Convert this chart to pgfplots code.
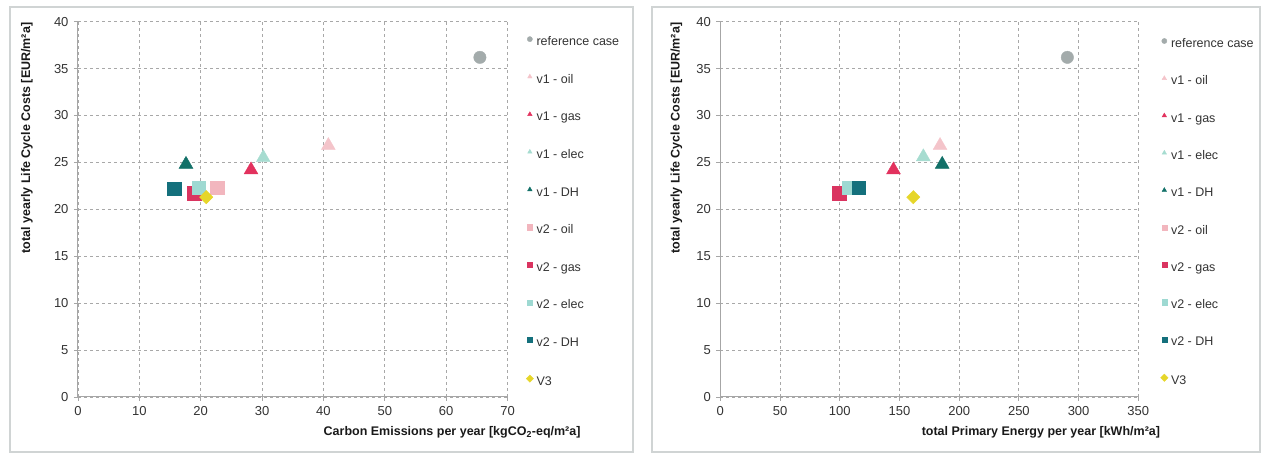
\documentclass[border=0pt]{standalone}
\usepackage{fontspec}
\setmainfont{Liberation Sans}
\usepackage{pgfplots}
\pgfplotsset{compat=1.18}

% marker colours
\definecolor{cref}{HTML}{A3ABAB}
\definecolor{oilA}{HTML}{F4C4CA}
\definecolor{gasA}{HTML}{E2325E}
\definecolor{elecA}{HTML}{A6DCD0}
\definecolor{dhA}{HTML}{127068}
\definecolor{oilB}{HTML}{F2B6BE}
\definecolor{gasB}{HTML}{DA3460}
\definecolor{elecB}{HTML}{9ED9D2}
\definecolor{dhB}{HTML}{14707C}
\definecolor{vthree}{HTML}{E6D62A}
\definecolor{gridc}{HTML}{A8A8A8}
\definecolor{framec}{HTML}{D0D4D4}

\pgfplotsset{
  lcc/.style={
    scale only axis,
    height=375.3pt,
    axis x line=bottom, axis y line=left,
    axis line style={-, draw=black!35, line width=1pt},
    ymin=0, ymax=40, ytick distance=5,
    grid=major,
    major grid style={draw=gridc, line width=0.9pt, dash pattern=on 3pt off 3pt},
    major tick length=4pt, tick align=outside,
    tick style={draw=black!35, line width=0.8pt},
    /pgf/number format/assume math mode=true,
    ticklabel style={font=\fontsize{13}{15}\selectfont, text=black!80},
    yticklabel style={xshift=-2pt},
    xticklabel style={yshift=-2pt},
    label style={font=\bfseries\fontsize{12.5}{14}\selectfont, text=black!90},
    only marks,
    clip=false,
    legend cell align=left,
    legend image code/.code={\draw[#1, mark size=2.6pt] plot coordinates {(0pt,3.5pt)};},
    legend style={draw=none, fill=none, anchor=north west, inner sep=0pt,
      row sep=25.5pt, column sep=3pt,
      font=\fontsize{12.5}{14}\selectfont, text=black!80,
      nodes={inner sep=0pt, text height=9pt, text depth=3pt}},
  },
  circ/.style={mark=*, mark size=6.2pt, color=#1},
  tri/.style={mark=triangle*, mark size=8pt, color=#1},
  sqr/.style={mark=square*, mark size=6.8pt, color=#1},
  dia/.style={mark=square*, mark size=4.7pt, mark options={rotate=45}, color=#1},
}

\begin{document}
\begin{tikzpicture}
\useasboundingbox (0pt,0pt) rectangle (1266pt,457pt);
% panel frames
\draw[framec, line width=1.2pt] (10pt,5pt) rectangle (633pt,450pt);
\draw[framec, line width=1.2pt] (652pt,5pt) rectangle (1260pt,450pt);

% carbon emissions vs. life cycle costs
\begin{axis}[lcc,
  at={(78pt,60pt)}, anchor=south west, width=429.5pt,
  xmin=0, xmax=70, xtick distance=10,
  xlabel={Carbon Emissions per year [kgCO\textsubscript{2}-eq/m²a]},
  ylabel={total yearly Life Cycle Costs [EUR/m²a]},
  xlabel style={at={(rel axis cs:0.871,-0.093)}, anchor=center},
  ylabel style={at={(rel axis cs:-0.119,0.69)}, anchor=center},
  legend style={at={(rel axis cs:1.043,0.961)}},
]
\addplot[circ=cref] coordinates {(65.5,36.2)};
\addlegendentry{reference case}
\addplot[tri=oilA] coordinates {(40.8,26.8)};
\addlegendentry{v1 - oil}
\addplot[tri=gasA] coordinates {(28.2,24.2)};
\addlegendentry{v1 - gas}
\addplot[tri=elecA] coordinates {(30.2,25.5)};
\addlegendentry{v1 - elec}
\addplot[tri=dhA] coordinates {(17.6,24.8)};
\addlegendentry{v1 - DH}
\addplot[sqr=oilB] coordinates {(22.7,22.3)};
\addlegendentry{v2 - oil}
\addplot[sqr=gasB] coordinates {(18.9,21.7)};
\addlegendentry{v2 - gas}
\addplot[sqr=elecB] coordinates {(19.7,22.3)};
\addlegendentry{v2 - elec}
\addplot[sqr=dhB] coordinates {(15.7,22.2)};
\addlegendentry{v2 - DH}
\addplot[dia=vthree] coordinates {(20.9,21.3)};
\addlegendentry{V3}
\end{axis}

% primary energy vs. life cycle costs
\begin{axis}[lcc,
  at={(720.3pt,60pt)}, anchor=south west, width=418pt,
  xmin=0, xmax=350, xtick distance=50,
  xlabel={total Primary Energy per year [kWh/m²a]},
  ylabel={total yearly Life Cycle Costs [EUR/m²a]},
  xlabel style={at={(rel axis cs:0.767,-0.093)}, anchor=center},
  ylabel style={at={(rel axis cs:-0.105,0.69)}, anchor=center},
  legend style={at={(rel axis cs:1.053,0.956)}, row sep=25.2pt},
]
\addplot[circ=cref] coordinates {(290.6,36.2)};
\addlegendentry{reference case}
\addplot[tri=oilA] coordinates {(184,26.8)};
\addlegendentry{v1 - oil}
\addplot[tri=gasA] coordinates {(145,24.2)};
\addlegendentry{v1 - gas}
\addplot[tri=elecA] coordinates {(170,25.6)};
\addlegendentry{v1 - elec}
\addplot[tri=dhA] coordinates {(185.8,24.8)};
\addlegendentry{v1 - DH}
\addplot[sqr=oilB] coordinates {(109,22.3)};
\addlegendentry{v2 - oil}
\addplot[sqr=gasB] coordinates {(99.4,21.7)};
\addlegendentry{v2 - gas}
\addplot[sqr=elecB] coordinates {(107.5,22.3)};
\addlegendentry{v2 - elec}
\addplot[sqr=dhB] coordinates {(116,22.3)};
\addlegendentry{v2 - DH}
\addplot[dia=vthree] coordinates {(161.6,21.3)};
\addlegendentry{V3}
\end{axis}
\end{tikzpicture}
\end{document}
